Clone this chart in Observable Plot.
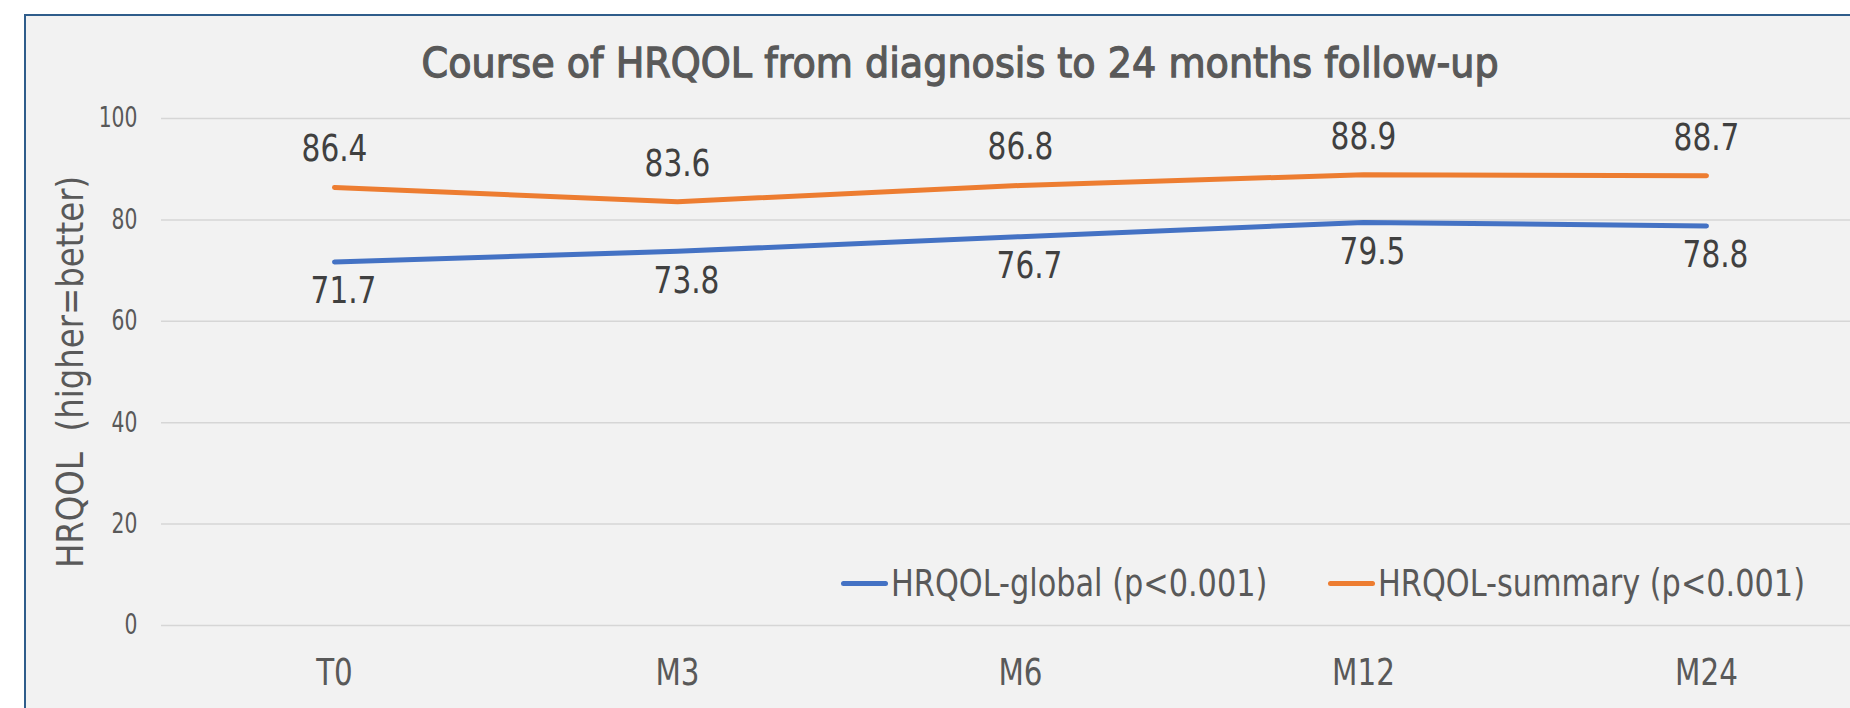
<!DOCTYPE html>
<html>
<head>
<meta charset="utf-8">
<script src="https://cdn.jsdelivr.net/npm/d3@7"></script>
<script src="https://cdn.jsdelivr.net/npm/@observablehq/plot@0.6"></script>
<style>
  html, body { margin: 0; padding: 0; background: #ffffff; width: 1850px; height: 708px; overflow: hidden; }
  #frame { position: absolute; left: 24px; top: 14px; width: 1868px; height: 800px;
           border-left: 2px solid #2f5d8b; border-top: 2px solid #2f5d8b; background: #f2f2f2; }
  #title { position: absolute; left: 0; top: 27px; width: 100%; text-align: center;
           font-family: "DejaVu Sans", sans-serif; font-weight: normal; font-size: 41px; line-height: 41px; color: #595959;
           -webkit-text-stroke: 1.3px #595959; }
  #title span { display: inline-block; transform: scaleX(0.93); transform-origin: center; white-space: nowrap; }
  #chart { position: absolute; left: 0; top: 90px; }
  #legend { position: absolute; left: 841px; top: 565px; display: flex; align-items: center;
            font-family: "DejaVu Sans", sans-serif; font-size: 37px; line-height: 37px; color: #595959; white-space: nowrap; }
  .sw { display: inline-block; width: 47px; height: 5px; border-radius: 3px; }
  .lt { display: inline-block; margin-left: 3px; transform: scaleX(0.82); transform-origin: left center; }
</style>
</head>
<body>
<div id="frame"><div id="title"><span></span></div></div>
<div id="chart"></div>
<div id="legend"></div>
<script>
const titleText = "Course of HRQOL from diagnosis to 24 months follow-up";
const yLabel = "HRQOL\u00a0 (higher=better)";
const timepoints = ["T0", "M3", "M6", "M12", "M24"];
const globalScores = [71.7, 73.8, 76.7, 79.5, 78.8];
const summaryScores = [86.4, 83.6, 86.8, 88.9, 88.7];
const seriesNames = ["HRQOL-global (p<0.001)", "HRQOL-summary (p<0.001)"];
const seriesColors = ["#4472c4", "#ed7d31"];
const yTicks = [0, 20, 40, 60, 80, 100];

document.querySelector("#title span").textContent = titleText;

const globalData = timepoints.map((t, i) => ({t, v: globalScores[i]}));
const summaryData = timepoints.map((t, i) => ({t, v: summaryScores[i]}));

const svg = Plot.plot({
  width: 1850,
  height: 618,
  marginLeft: 161,
  marginRight: 0,
  marginTop: 28,
  marginBottom: 83,
  style: {background: "transparent", fontFamily: "DejaVu Sans, sans-serif", overflow: "visible"},
  x: {type: "point", domain: timepoints, padding: 0.5, insetRight: -28},
  y: {domain: [0, 100]},
  marks: [
    Plot.gridY(yTicks, {stroke: "#d6d6d6", strokeOpacity: 1, strokeWidth: 1.5}),
    Plot.axisY(yTicks, {tickSize: 0, tickPadding: 24, fontSize: 27.5, fill: "#595959", label: null}),
    Plot.axisX({tickSize: 0, tickPadding: 33, fontSize: 37.7, fill: "#595959", label: null}),
    Plot.text([yLabel], {text: d => d, frameAnchor: "left", rotate: -90, dx: -79, lineAnchor: "bottom",
      textAnchor: "middle", fontSize: 37.7, fill: "#595959", ariaDescription: "y-label"}),
    Plot.line(globalData, {x: "t", y: "v", stroke: seriesColors[0], strokeWidth: 5, strokeLinecap: "round", strokeLinejoin: "round"}),
    Plot.line(summaryData, {x: "t", y: "v", stroke: seriesColors[1], strokeWidth: 5, strokeLinecap: "round", strokeLinejoin: "round"}),
    Plot.text(globalData, {x: "t", y: "v", text: d => d.v.toFixed(1), lineAnchor: "top", dy: 15, dx: 9,
      fontSize: 37, fill: "#404040", ariaDescription: "labels-global"}),
    Plot.text(summaryData, {x: "t", y: "v", text: d => d.v.toFixed(1), lineAnchor: "bottom", dy: -26,
      fontSize: 37, fill: "#404040", ariaDescription: "labels-summary"})
  ]
});

const scaleMap = {"y-axis tick label": 0.74, "x-axis tick label": 0.78, "labels-global": 0.8, "labels-summary": 0.8, "y-label": 0.86};
d3.select(svg).selectAll("g").each(function () {
  const key = this.getAttribute("aria-description") || this.getAttribute("aria-label");
  const s = scaleMap[key];
  if (!s) return;
  d3.select(this).selectAll("text").each(function () {
    const tr = this.getAttribute("transform");
    if (tr) this.setAttribute("transform", tr + ` scale(${s},1)`);
    else {
      const x = +this.getAttribute("x") || 0;
      this.setAttribute("transform", `translate(${x},0) scale(${s},1) translate(${-x},0)`);
    }
  });
});

document.getElementById("chart").appendChild(svg);

const legend = document.getElementById("legend");
const legendScale = 0.82;
const legendGap = 61;
seriesNames.forEach((name, i) => {
  const sw = document.createElement("span");
  sw.className = "sw";
  sw.style.background = seriesColors[i];
  const lt = document.createElement("span");
  lt.className = "lt";
  lt.textContent = name;
  legend.appendChild(sw);
  legend.appendChild(lt);
  const w = lt.offsetWidth;
  lt.style.marginRight = (-(1 - legendScale) * w + (i < seriesNames.length - 1 ? legendGap : 0)) + "px";
});
</script>
</body>
</html>
